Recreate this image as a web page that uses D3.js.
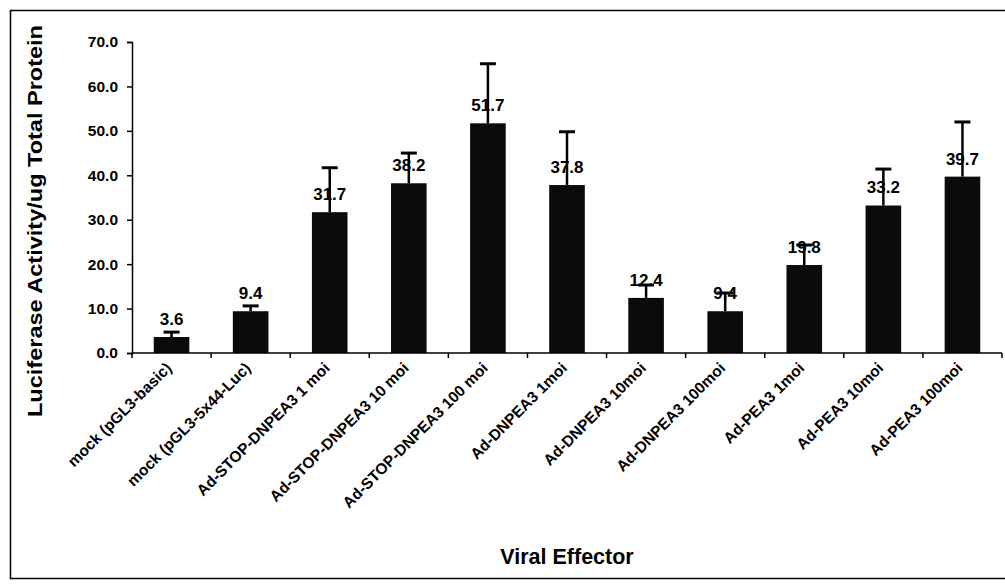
<!DOCTYPE html>
<html>
<head>
<meta charset="utf-8">
<script src="https://cdn.jsdelivr.net/npm/d3@7/dist/d3.min.js"></script>
<style>
  body { margin: 0; background: #fff; }
  text { font-family: Arial, "Liberation Sans", sans-serif; font-weight: bold; fill: #000; }
</style>
</head>
<body>
<svg id="chart" width="1005" height="588"></svg>
<script>
// data
var categories = ["mock (pGL3-basic)", "mock (pGL3-5x44-Luc)", "Ad-STOP-DNPEA3 1 moi",
  "Ad-STOP-DNPEA3 10 moi", "Ad-STOP-DNPEA3 100 moi", "Ad-DNPEA3 1moi", "Ad-DNPEA3 10moi",
  "Ad-DNPEA3 100moi", "Ad-PEA3 1moi", "Ad-PEA3 10moi", "Ad-PEA3 100moi"];
var values = [3.6, 9.4, 31.7, 38.2, 51.7, 37.8, 12.4, 9.4, 19.8, 33.2, 39.7];
var errors = [1.1, 1.2, 10.0, 6.8, 13.4, 12.0, 2.9, 4.1, 4.5, 8.2, 12.3];
var yTicks = [0, 10, 20, 30, 40, 50, 60, 70];

var svg = d3.select("#chart");
var W = 1005, H = 588;
var mLeft = 132, mRight = 1002, mTop = 42, mBottom = 353;

// frame round the whole chart
svg.append("path")
  .attr("d", "M" + (W + 2) + ",10.5 H10.5 V578.5 H" + (W + 2))
  .attr("fill", "none")
  .attr("stroke", "#000")
  .attr("stroke-width", 1.5);

var x = d3.scaleBand().domain(categories).range([mLeft, mRight]).paddingInner(0.55).paddingOuter(0.275);
var xEdge = d3.scaleLinear().domain([0, categories.length]).range([mLeft, mRight]);
var y = d3.scaleLinear().domain([0, 70]).range([mBottom, mTop]);

// y axis
var yAxis = svg.append("g")
  .attr("transform", "translate(" + mLeft + ",0)")
  .call(d3.axisLeft(y).tickValues(yTicks).tickFormat(d3.format(".1f")).tickSize(5).tickPadding(9));
yAxis.select(".domain").attr("stroke-width", 1.5);
yAxis.selectAll(".tick line").attr("stroke-width", 1.5);
yAxis.selectAll(".tick text").style("font-size", "15.5px").attr("fill", "#000");

// bars
svg.append("g").selectAll("rect")
  .data(values)
  .enter()
  .append("rect")
  .attr("x", function(d, i){ return x(categories[i]); })
  .attr("y", function(d){ return y(d); })
  .attr("width", x.bandwidth())
  .attr("height", function(d){ return mBottom - y(d); })
  .attr("fill", "#0b0b0b");

// value labels
svg.append("g").selectAll("text")
  .data(values)
  .enter()
  .append("text")
  .attr("x", function(d, i){ return x(categories[i]) + x.bandwidth() / 2; })
  .attr("y", function(d){ return y(d) - 12; })
  .attr("text-anchor", "middle")
  .style("font-size", "17px")
  .text(function(d){ return d.toFixed(1); });

// error bars, upper only, drawn over the labels
var eb = svg.append("g").attr("stroke", "#000").attr("stroke-width", 2.5);
values.forEach(function(v, i){
  var cx = x(categories[i]) + x.bandwidth() / 2;
  eb.append("line")
    .attr("x1", cx).attr("x2", cx)
    .attr("y1", y(v)).attr("y2", y(v + errors[i]));
  eb.append("line")
    .attr("x1", cx - 8).attr("x2", cx + 8)
    .attr("y1", y(v + errors[i])).attr("y2", y(v + errors[i]))
    .attr("stroke-width", 3);
});

// x axis line and ticks at band edges
svg.append("line")
  .attr("x1", mLeft).attr("x2", mRight)
  .attr("y1", mBottom).attr("y2", mBottom)
  .attr("stroke", "#000").attr("stroke-width", 1.5);
svg.append("g").selectAll("line")
  .data(d3.range(categories.length + 1))
  .enter()
  .append("line")
  .attr("x1", function(d){ return xEdge(d); })
  .attr("x2", function(d){ return xEdge(d); })
  .attr("y1", mBottom).attr("y2", mBottom + 5)
  .attr("stroke", "#000").attr("stroke-width", 1.5);

// category labels, slanted
svg.append("g").selectAll("text")
  .data(categories)
  .enter()
  .append("text")
  .attr("text-anchor", "end")
  .attr("transform", function(d){
    var cx = x(d) + x.bandwidth() / 2 + 1;
    return "translate(" + cx + "," + (mBottom + 16) + ") rotate(-45)";
  })
  .style("font-size", "15.5px")
  .text(function(d){ return d; });

// axis titles
svg.append("text")
  .attr("x", (mLeft + mRight) / 2)
  .attr("y", 564)
  .attr("text-anchor", "middle")
  .style("font-size", "21.5px")
  .text("Viral Effector");

svg.append("text")
  .attr("transform", "translate(42,221) rotate(-90)")
  .attr("text-anchor", "middle")
  .attr("textLength", 392)
  .attr("lengthAdjust", "spacingAndGlyphs")
  .style("font-size", "19.5px")
  .text("Luciferase Activity/ug Total Protein");
</script>
</body>
</html>
